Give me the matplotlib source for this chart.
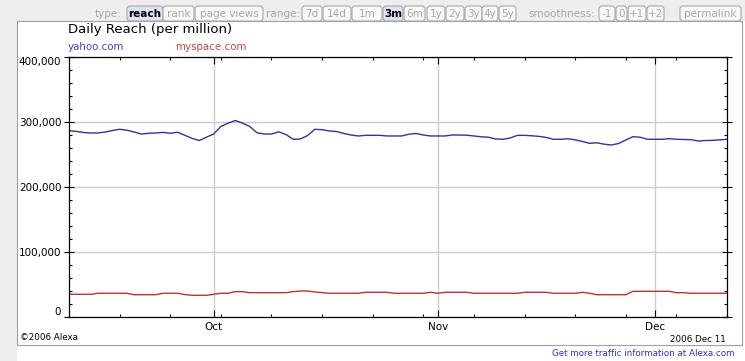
"""Alexa-style daily reach chart: yahoo.com vs myspace.com, Sep-Dec 2006."""

import matplotlib

matplotlib.use("Agg")

import matplotlib.dates as mdates
import matplotlib.pyplot as plt
import pandas as pd
from matplotlib.lines import Line2D
from matplotlib.patches import FancyBboxPatch, Rectangle
from matplotlib.ticker import FuncFormatter, MultipleLocator

W, H, DPI = 745, 361, 100

DATES = pd.date_range("2006-09-11", "2006-12-11", freq="D")

YAHOO = [
    286600, 285500, 283900, 283100, 283100, 284600, 286900, 288800, 287400, 284600,
    281500, 282600, 283100, 284000, 282600, 284200, 279700, 274900, 271500, 276600,
    281500, 293100, 298200, 302300, 298200, 293100, 283400, 281500, 281500, 284900,
    280800, 273400, 273900, 279200, 288800, 288200, 286200, 285400, 282300, 280000,
    278500, 279500, 279500, 279500, 278500, 278500, 278500, 281200, 282300, 280000,
    278500, 278500, 278500, 280000, 280000, 279700, 278500, 277200, 276600, 273900,
    273400, 275400, 279400, 279500, 278800, 277900, 276200, 273400, 273400, 274200,
    272600, 270000, 267200, 268000, 265900, 264600, 266900, 272300, 277400, 276500,
    273400, 273400, 273400, 274300, 273400, 273100, 272900, 270800, 271500, 271700,
    272600, 273400,
]

MYSPACE = [
    34900, 34900, 34900, 34900, 36500, 36500, 36500, 36500, 36500, 34300,
    34300, 34300, 34300, 36500, 36500, 36500, 34500, 33400, 33400, 33400,
    34900, 36500, 36500, 39000, 39000, 37400, 37400, 37400, 37400, 37400,
    37400, 39000, 40000, 40000, 38500, 37500, 36500, 36500, 36500, 36500,
    36500, 38000, 38000, 38000, 38000, 36500, 36500, 36500, 36500, 36500,
    38000, 36500, 38000, 38000, 38000, 38000, 36500, 36500, 36500, 36500,
    36500, 36500, 36500, 38000, 38000, 38000, 38000, 36500, 36500, 36500,
    36500, 38000, 36500, 34300, 34300, 34300, 34300, 34300, 39500, 39500,
    39500, 39500, 39500, 39500, 37400, 37400, 36500, 36500, 36500, 36500,
    36500, 36500,
]

Y_TICKS = [0, 100000, 200000, 300000, 400000]

TYPE_TABS = [("reach", 127, 163, True), ("rank", 163, 194, False), ("page views", 195, 263, False)]
RANGE_TABS = [
    ("7d", 302, 322, False), ("14d", 323, 351, False), ("1m", 352, 382, False),
    ("3m", 383, 403, True), ("6m", 404, 425, False), ("1y", 427, 445, False),
    ("2y", 446, 464, False), ("3y", 465, 482, False), ("4y", 482, 498, False),
    ("5y", 499, 516, False),
]
SMOOTH_TABS = [("-1", 599, 615, False), ("0", 616, 627, False), ("+1", 628, 646, False), ("+2", 647, 664, False)]

YAHOO_COLOR = "#333399"
MYSPACE_COLOR = "#bb3333"
FONT = "DejaVu Sans"


def inch(x, y):
    """Pixel position (origin top-left) to figure inches (origin bottom-left)."""
    return x / DPI, (H - y) / DPI


def draw_frame(fig):
    fig.patch.set_facecolor("#eeeeee")
    x0, y0 = inch(17, H)
    fig.patches.append(
        Rectangle((x0, y0), (W - 17) / DPI, (H - 21) / DPI,
                  transform=fig.dpi_scale_trans, fc="white", ec="none", zorder=-2)
    )
    border = [((17, 21), (742, 21)), ((17, 21), (17, 345)),
              ((742, 21), (742, 345)), ((17, 345), (742, 345))]
    for (xa, ya), (xb, yb) in border:
        (ia, ja), (ib, jb) = inch(xa, ya), inch(xb, yb)
        fig.lines.append(Line2D([ia, ib], [ja, jb], transform=fig.dpi_scale_trans,
                                color="#a0a0a0", lw=0.8, zorder=-1))


def draw_tab(fig, label, x0, x1, selected):
    bx, by = inch(x0, 21)
    fig.patches.append(
        FancyBboxPatch((bx, by), (x1 - x0) / DPI, 15 / DPI,
                       boxstyle="round,pad=0,rounding_size=0.03",
                       transform=fig.dpi_scale_trans,
                       fc="#dde3f0" if selected else "#f8f8f8",
                       ec="#a8a8a8", lw=0.8)
    )
    tx, ty = inch((x0 + x1) / 2, 14)
    fig.text(tx, ty, label, transform=fig.dpi_scale_trans, ha="center", va="center",
             fontsize=7.5, family=FONT,
             color="black" if selected else "#a8a8a8",
             fontweight="bold" if selected else "normal")


def draw_toolbar(fig):
    for label, x in [("type:", 122), ("range:", 300), ("smoothness:", 595)]:
        tx, ty = inch(x, 14)
        fig.text(tx, ty, label, transform=fig.dpi_scale_trans, ha="right", va="center",
                 fontsize=7.5, family=FONT, color="#a8a8a8")
    for label, x0, x1, sel in TYPE_TABS + RANGE_TABS + SMOOTH_TABS:
        draw_tab(fig, label, x0, x1, sel)
    draw_tab(fig, "permalink", 680, 741, False)


def main():
    fig = plt.figure(figsize=(W / DPI, H / DPI), dpi=DPI)
    draw_frame(fig)
    draw_toolbar(fig)

    ax = fig.add_axes([69 / W, 1 - 317 / H, 658 / W, 260 / H])
    ax.set_zorder(1)
    ax.plot(DATES, YAHOO, color=YAHOO_COLOR, lw=1.0)
    ax.plot(DATES, MYSPACE, color=MYSPACE_COLOR, lw=1.0)

    ax.set_xlim(DATES[0], DATES[-1])
    ax.set_ylim(Y_TICKS[0], Y_TICKS[-1])
    ax.set_yticks(Y_TICKS)
    ax.yaxis.set_minor_locator(MultipleLocator(20000))
    ax.yaxis.set_major_formatter(FuncFormatter(lambda v, _: f"{int(v):,}"))
    ax.xaxis.set_major_locator(mdates.MonthLocator())
    ax.xaxis.set_major_formatter(mdates.DateFormatter("%b"))
    ax.xaxis.set_minor_locator(mdates.WeekdayLocator(byweekday=mdates.MO))

    ax.grid(which="major", color="#cccccc", lw=1.0)
    ax.set_axisbelow(True)
    for spine in ax.spines.values():
        spine.set_linewidth(0.9)
    ax.tick_params(which="both", direction="in", top=True, right=True,
                   labelsize=7.5, pad=3.5, width=0.8)
    ax.tick_params(which="major", length=5)
    ax.tick_params(which="minor", length=2.5)
    ax.tick_params(axis="y", which="major", direction="inout", length=7, pad=2)
    for lab in ax.get_xticklabels() + ax.get_yticklabels():
        lab.set_family(FONT)

    yt = ax.yaxis.get_major_ticks()
    yt[0].label1.set_verticalalignment("bottom")
    yt[-1].label1.set_verticalalignment("top")

    fig.text(68 / W, 1 - 29 / H, "Daily Reach (per million)", fontsize=9.5,
             family=FONT, ha="left", va="center", color="black")
    fig.text(68 / W, 1 - 47 / H, "yahoo.com", fontsize=7.4, family=FONT,
             ha="left", va="center", color="#4444cc")
    fig.text(175 / W, 1 - 47 / H, "myspace.com", fontsize=7.4, family=FONT,
             ha="left", va="center", color="#cc4444")
    fig.text(20 / W, 1 - 338 / H, "\u00a92006 Alexa", fontsize=6.3, family=FONT,
             ha="left", va="center", color="black")
    fig.text(726 / W, 1 - 339 / H, "2006 Dec 11", fontsize=6.3, family=FONT,
             ha="right", va="center", color="black")
    fig.text(734 / W, 1 - 353 / H, "Get more traffic information at Alexa.com",
             fontsize=6.3, family=FONT, ha="right", va="center", color="#3333cc")

    fig.savefig("out.png", dpi=DPI, facecolor=fig.get_facecolor())


if __name__ == "__main__":
    main()
